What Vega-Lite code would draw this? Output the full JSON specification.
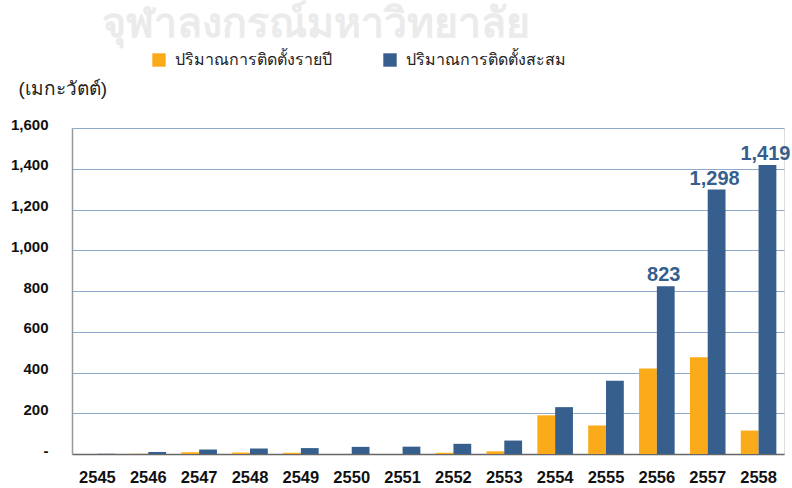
{
  "$schema": "https://vega.github.io/schema/vega-lite/v6.json",
  "width": 712,
  "height": 326,
  "autosize": "none",
  "padding": {"left": 72, "top": 128, "right": 8, "bottom": 34},
  "background": "white",
  "title": {
    "text": "จุฬาลงกรณ์มหาวิทยาลัย",
    "color": "#ebebeb",
    "fontSize": 41,
    "fontWeight": "bold",
    "anchor": "start",
    "frame": "group",
    "orient": "top",
    "baseline": "bottom",
    "dx": 30,
    "dy": 43,
    "offset": 8,
    "font": "Noto Sans, sans-serif"
  },
  "data": {
    "values": [
      {"year": "2545", "series": "ปริมาณการติดตั้งรายปี", "value": 0},
      {"year": "2545", "series": "ปริมาณการติดตั้งสะสม", "value": 1},
      {"year": "2546", "series": "ปริมาณการติดตั้งรายปี", "value": 1},
      {"year": "2546", "series": "ปริมาณการติดตั้งสะสม", "value": 10},
      {"year": "2547", "series": "ปริมาณการติดตั้งรายปี", "value": 9},
      {"year": "2547", "series": "ปริมาณการติดตั้งสะสม", "value": 22},
      {"year": "2548", "series": "ปริมาณการติดตั้งรายปี", "value": 7},
      {"year": "2548", "series": "ปริมาณการติดตั้งสะสม", "value": 27},
      {"year": "2549", "series": "ปริมาณการติดตั้งรายปี", "value": 6},
      {"year": "2549", "series": "ปริมาณการติดตั้งสะสม", "value": 29},
      {"year": "2550", "series": "ปริมาณการติดตั้งรายปี", "value": 0},
      {"year": "2550", "series": "ปริมาณการติดตั้งสะสม", "value": 35},
      {"year": "2551", "series": "ปริมาณการติดตั้งรายปี", "value": 0},
      {"year": "2551", "series": "ปริมาณการติดตั้งสะสม", "value": 36},
      {"year": "2552", "series": "ปริมาณการติดตั้งรายปี", "value": 6},
      {"year": "2552", "series": "ปริมาณการติดตั้งสะสม", "value": 50},
      {"year": "2553", "series": "ปริมาณการติดตั้งรายปี", "value": 13},
      {"year": "2553", "series": "ปริมาณการติดตั้งสะสม", "value": 66},
      {"year": "2554", "series": "ปริมาณการติดตั้งรายปี", "value": 190},
      {"year": "2554", "series": "ปริมาณการติดตั้งสะสม", "value": 230},
      {"year": "2555", "series": "ปริมาณการติดตั้งรายปี", "value": 140},
      {"year": "2555", "series": "ปริมาณการติดตั้งสะสม", "value": 360},
      {"year": "2556", "series": "ปริมาณการติดตั้งรายปี", "value": 420},
      {"year": "2556", "series": "ปริมาณการติดตั้งสะสม", "value": 823},
      {"year": "2557", "series": "ปริมาณการติดตั้งรายปี", "value": 475},
      {"year": "2557", "series": "ปริมาณการติดตั้งสะสม", "value": 1298},
      {"year": "2558", "series": "ปริมาณการติดตั้งรายปี", "value": 115},
      {"year": "2558", "series": "ปริมาณการติดตั้งสะสม", "value": 1419}
    ]
  },
  "encoding": {
    "x": {
      "field": "year",
      "type": "nominal",
      "scale": {"paddingInner": 0.3, "paddingOuter": 0.15},
      "axis": {
        "title": null,
        "labelAngle": 0,
        "labelFont": "Liberation Sans",
        "labelFontSize": 16.5,
        "labelFontWeight": "bold",
        "labelColor": "#111111",
        "labelPadding": 15,
        "ticks": false,
        "domainColor": "#666666",
        "domainWidth": 1.5,
        "grid": false
      }
    },
    "y": {
      "field": "value",
      "type": "quantitative",
      "scale": {"domain": [0, 1600], "nice": false},
      "axis": {
        "values": [0, 200, 400, 600, 800, 1000, 1200, 1400, 1600],
        "labelExpr": "datum.value == 0 ? '-' : format(datum.value, ',')",
        "labelFont": "Liberation Sans",
        "labelFontSize": 15,
        "labelFontWeight": "bold",
        "labelColor": "#111111",
        "labelPadding": 24,
        "labelOffset": -4,
        "ticks": false,
        "domainColor": "#999999",
        "domainWidth": 1.5,
        "grid": true,
        "gridColor": "#8eaacb",
        "gridWidth": 1,
        "title": "(เมกะวัตต์)",
        "titleAngle": 0,
        "titleX": -54,
        "titleY": -40,
        "titleAlign": "left",
        "titleBaseline": "middle",
        "titleFontSize": 19,
        "titleFontWeight": "normal",
        "titleColor": "#222222"
      }
    },
    "xOffset": {"field": "series", "type": "nominal", "sort": ["ปริมาณการติดตั้งรายปี", "ปริมาณการติดตั้งสะสม"]}
  },
  "layer": [
    {
      "mark": {"type": "bar"},
      "encoding": {
        "color": {
          "field": "series",
          "type": "nominal",
          "sort": ["ปริมาณการติดตั้งรายปี", "ปริมาณการติดตั้งสะสม"],
          "scale": {"range": ["#fbab19", "#365f8e"]},
          "legend": {
            "title": null,
            "orient": "none",
            "direction": "horizontal",
            "legendX": 79,
            "legendY": -76,
            "symbolType": "square",
            "symbolSize": 180,
            "symbolStrokeWidth": 0,
            "labelFontSize": 16,
            "labelColor": "#222222",
            "labelLimit": 400,
            "columnPadding": 50,
            "labelOffset": 8
          }
        }
      }
    },
    {
      "transform": [
        {"filter": "datum.series == 'ปริมาณการติดตั้งสะสม' && datum.value > 800"}
      ],
      "mark": {
        "type": "text",
        "baseline": "bottom",
        "dy": -1,
        "dx": -2,
        "font": "Liberation Sans",
        "fontSize": 20,
        "fontWeight": "bold",
        "color": "#365f8e"
      },
      "encoding": {
        "text": {"field": "value", "type": "quantitative", "format": ","}
      }
    }
  ]
}
